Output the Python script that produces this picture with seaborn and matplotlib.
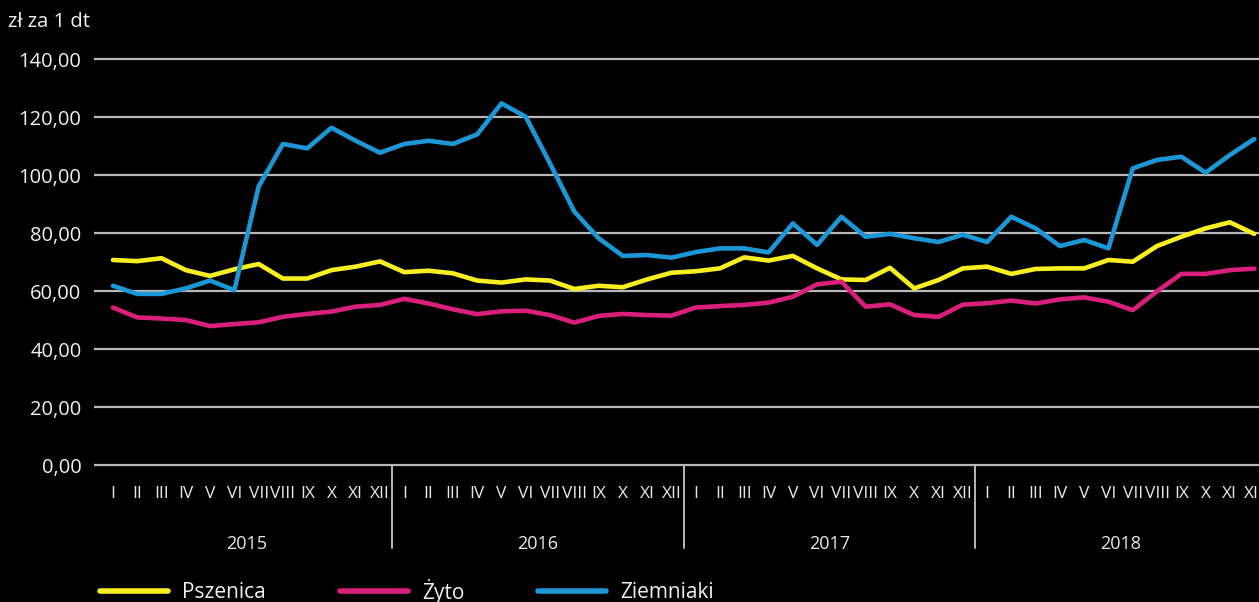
import pandas as pd
import matplotlib.pyplot as plt
import seaborn as sns

# --- data ---
years = ['2015', '2016', '2017', '2018']
months = ['I', 'II', 'III', 'IV', 'V', 'VI', 'VII', 'VIII', 'IX', 'X', 'XI', 'XII']
series_names = ['Pszenica', 'Żyto', 'Ziemniaki']

pszenica = [70.7, 70.3, 71.3, 67.2, 65.2, 67.5, 69.3, 64.3, 64.3, 67.2, 68.4, 70.2,
            66.5, 67.0, 66.1, 63.6, 62.9, 64.0, 63.6, 60.7, 61.8, 61.3, 64.0, 66.3,
            66.8, 67.8, 71.6, 70.5, 72.1, 67.8, 64.0, 63.8, 68.0, 60.9, 63.8, 67.8,
            68.4, 65.9, 67.6, 67.8, 67.8, 70.7, 70.1, 75.5, 78.7, 81.6, 83.7, 79.7]
zyto = [54.3, 50.9, 50.5, 50.0, 47.9, 48.6, 49.2, 51.1, 52.1, 52.9, 54.6, 55.2,
        57.3, 55.7, 53.7, 52.0, 53.0, 53.2, 51.7, 49.1, 51.4, 52.1, 51.7, 51.5,
        54.3, 54.8, 55.2, 56.0, 58.0, 62.3, 63.2, 54.6, 55.4, 51.7, 51.1, 55.3,
        55.8, 56.7, 55.7, 57.1, 57.8, 56.3, 53.4, 59.9, 65.9, 65.9, 67.2, 67.7]
ziemniaki = [61.8, 59.0, 59.0, 60.9, 63.6, 60.3, 96.0, 110.7, 109.2, 116.3, 111.8, 107.7,
             110.7, 111.8, 110.7, 114.0, 124.7, 120.1, 104.0, 87.4, 78.2, 72.1, 72.4, 71.5,
             73.4, 74.7, 74.7, 73.3, 83.3, 75.9, 85.6, 78.7, 79.7, 78.2, 76.9, 79.4,
             76.9, 85.6, 81.6, 75.5, 77.6, 74.7, 102.3, 105.2, 106.3, 100.8, 106.9, 112.4]

y_ticks = [0, 20, 40, 60, 80, 100, 120, 140]
y_labels = ['0,00', '20,00', '40,00', '60,00', '80,00', '100,00', '120,00', '140,00']
unit_label = 'zł za 1 dt'

colors = ['#f7ef1f', '#d91f7c', '#1c97d6']

# long-form table for seaborn
n = len(years) * len(months)
df = pd.DataFrame({
    'idx': list(range(n)) * 3,
    'value': pszenica + zyto + ziemniaki,
    'series': [s for s in series_names for _ in range(n)],
})

sns.set_style('dark', {'axes.facecolor': 'black', 'figure.facecolor': 'black'})
plt.rcParams['font.family'] = ['Open Sans', 'DejaVu Sans']

W, H = 1259, 602
fig = plt.figure(figsize=(W / 100, H / 100), dpi=100)
fig.patch.set_facecolor('black')

# axes geometry in pixels: x index -0.78 -> 94px, step 24.28px; y 0 -> 465px, 140 -> 59px
ppu = 406 / 140
bottom_px = 465 + ppu
top_px = 59 - ppu
right_px = 113 + 47.5 * 24.28
ax = fig.add_axes([94 / W, (H - bottom_px) / H, (right_px - 94) / W, (bottom_px - top_px) / H])
ax.set_facecolor('black')

sns.lineplot(data=df, x='idx', y='value', hue='series', hue_order=series_names,
             palette=colors, linewidth=3.3, ax=ax, legend=True)
handles, labels = ax.get_legend_handles_labels()
ax.get_legend().remove()

ax.set_xlim(-0.78, 47.5)
ax.set_ylim(-1, 141)
for s in ax.spines.values():
    s.set_visible(False)

ax.set_yticks(y_ticks)
ax.set_yticklabels(y_labels)
ax.yaxis.grid(True, color='#b8b8b8', linewidth=1.6)
ax.xaxis.grid(False)
ax.tick_params(axis='y', length=0, pad=9, labelsize=14.5, labelcolor='#f0f0f0')

ax.set_xticks(range(n))
ax.set_xticklabels(months * len(years))
ax.tick_params(axis='x', length=0, pad=13, labelsize=12.5, labelcolor='#e8e8e8')
ax.set_xlabel('')
ax.set_ylabel('')

# year separators and year labels under the month labels
axes_h = bottom_px - top_px
for k, yr in enumerate(years):
    if k > 0:
        ax.axvline(k * 12 - 0.5, ymin=(bottom_px - 548) / axes_h, ymax=(bottom_px - 465) / axes_h,
                   color='#b8b8b8', linewidth=1.4, clip_on=False)
    ax.text(k * 12 + 5.5, (bottom_px - 544) / axes_h, yr, transform=ax.get_xaxis_transform(),
            ha='center', va='center', fontsize=13, color='#e8e8e8')

fig.text(8 / W, 1 - 22 / H, unit_label, ha='left', va='center', fontsize=14.5, color='#f0f0f0')

fig.legend(handles, labels, loc='center left', bbox_to_anchor=(100 / W, 1 - 591 / H),
           ncol=3, frameon=False, fontsize=15, labelcolor='#f0f0f0',
           handlelength=3.27, handletextpad=0.67, columnspacing=3.55,
           borderpad=0, borderaxespad=0)
for h in fig.legends[0].legend_handles:
    h.set_linewidth(4)

fig.savefig('out.png', dpi=100, facecolor='black')
